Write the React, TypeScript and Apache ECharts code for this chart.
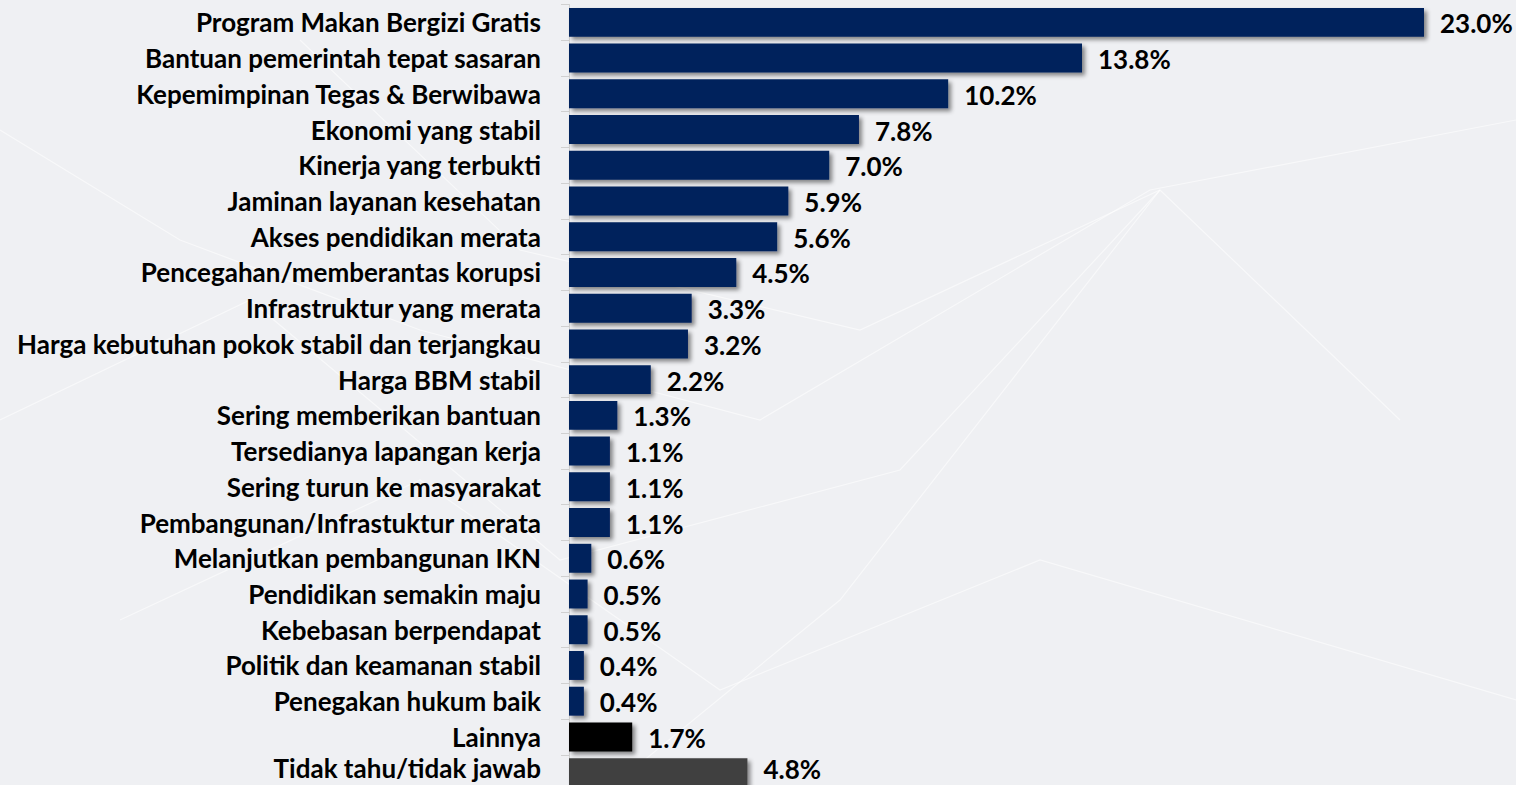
import React, { useEffect, useRef } from "react";
import * as echarts from "echarts";

const categories = [
  "Program Makan Bergizi Gratis",
  "Bantuan pemerintah tepat sasaran",
  "Kepemimpinan Tegas & Berwibawa",
  "Ekonomi yang stabil",
  "Kinerja yang terbukti",
  "Jaminan layanan kesehatan",
  "Akses pendidikan merata",
  "Pencegahan/memberantas korupsi",
  "Infrastruktur yang merata",
  "Harga kebutuhan pokok stabil dan terjangkau",
  "Harga BBM stabil",
  "Sering memberikan bantuan",
  "Tersedianya lapangan kerja",
  "Sering turun ke masyarakat",
  "Pembangunan/Infrastuktur merata",
  "Melanjutkan pembangunan IKN",
  "Pendidikan semakin maju",
  "Kebebasan berpendapat",
  "Politik dan keamanan stabil",
  "Penegakan hukum baik",
  "Lainnya",
  "Tidak tahu/tidak jawab",
];

const values = [23.0, 13.8, 10.2, 7.8, 7.0, 5.9, 5.6, 4.5, 3.3, 3.2, 2.2, 1.3, 1.1, 1.1, 1.1, 0.6, 0.5, 0.5, 0.4, 0.4, 1.7, 4.8];

const NAVY = "#00205B";
const specialColors: Record<string, string> = {
  "Lainnya": "#000000",
  "Tidak tahu/tidak jawab": "#404040",
};

// faint decorative background network lines
const bgLines: number[][][] = [
  [[0, 130], [180, 240], [420, 330], [760, 420], [1150, 190], [1516, 120]],
  [[0, 420], [250, 300], [560, 560], [900, 470], [1160, 190]],
  [[120, 620], [420, 480], [720, 690], [1040, 560], [1516, 700]],
  [[300, 40], [520, 250], [860, 330], [1160, 190], [1400, 420]],
  [[620, 780], [840, 600], [1160, 190]],
];

export default function App() {
  const ref = useRef<HTMLDivElement>(null);
  useEffect(() => {
    document.body.style.margin = "0";
    const chart = echarts.init(ref.current!, undefined, { renderer: "svg" });
    const font = "Lato";
    const lastIdx = categories.length - 1;
    const labelText = {
      color: "#000000",
      fontFamily: font,
      fontWeight: "bold",
      fontSize: 26,
    };
    chart.setOption({
      animation: false,
      backgroundColor: "#EFF0F3",
      graphic: bgLines.map((pts) => ({
        type: "polyline",
        silent: true,
        z: -10,
        shape: { points: pts },
        style: { stroke: "rgba(255,255,255,0.55)", lineWidth: 1.2, fill: null },
      })),
      grid: { left: 569, right: 92, top: 4.5, height: 786, containLabel: false },
      xAxis: {
        type: "value",
        min: 0,
        max: 23,
        show: false,
      },
      yAxis: {
        type: "category",
        inverse: true,
        data: categories,
        axisLine: { show: true, lineStyle: { color: "#D0D0D0", width: 1 } },
        axisTick: { show: true, length: 8, lineStyle: { color: "#D0D0D0" } },
        axisLabel: {
          ...labelText,
          margin: 28,
          formatter: (v: string, i: number) => (i === lastIdx ? `{up|${v}}` : v),
          rich: {
            up: { ...labelText, padding: [0, 0, 9, 0] },
          },
        },
      },
      series: [
        {
          type: "bar",
          barWidth: "81%",
          data: values.map((v, i) => ({
            value: v,
            itemStyle: { color: specialColors[categories[i]] || NAVY },
            label: i === lastIdx ? { offset: [0, -4] } : undefined,
          })),
          itemStyle: {
            shadowColor: "rgba(0,0,0,0.45)",
            shadowBlur: 4,
            shadowOffsetX: 3,
            shadowOffsetY: 3,
          },
          label: {
            show: true,
            position: "right",
            distance: 16,
            offset: [0, 1],
            ...labelText,
            formatter: (p: any) => p.value.toFixed(1) + "%",
          },
        },
      ],
    });
    return () => chart.dispose();
  }, []);
  return (
    <div style={{ width: 1516, height: 785, overflow: "hidden" }}>
      <div ref={ref} style={{ width: 1516, height: 800 }} />
    </div>
  );
}
